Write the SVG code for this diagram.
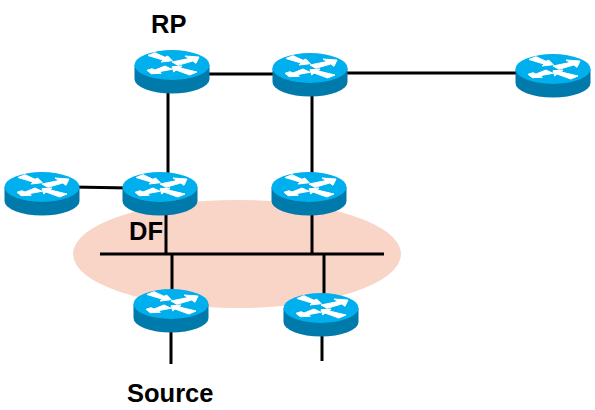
<svg xmlns="http://www.w3.org/2000/svg" width="595" height="410" viewBox="0 0 595 410">
<style>
.l{stroke:#000;stroke-width:3;fill:none}
.t{font-family:"Liberation Sans",Arial,sans-serif;font-weight:700;font-size:25.500px;fill:#000}
.b{fill:#0079ab}
.p{fill:#00afee}
.a{fill:#fff;stroke:#fff;stroke-width:1;stroke-linejoin:round}
</style>
<defs>
<g id="router">
<path class="b" d="M-37.500 0V14A37.500 14.500 0 0 0 37.500 14V0Z"/>
<ellipse class="p" cx="0" cy="0" rx="37.500" ry="15"/>
<path class="a" d="M-24-9.500L-17-12.300L-7-7.700L-4.300-9L0.300-4.300L-11-3L-9-5Z"/>
<path class="a" d="M27-8L13-9L17-6.500L0-3L6 0.300L20.700-4L24-1.700Z"/>
<path class="a" d="M-7 1L0 4.300L-13 6.700L-10.700 8.300L-20.700 8.700L-25 5.300L-20 3.700L-17 5Z"/>
<path class="a" d="M0 1.700L10 1L8.300 3L25 7L17.700 10L4 5L1.700 7Z"/>
</g>
</defs>
<ellipse cx="237" cy="254" rx="164" ry="54" fill="#f8d5c7"/>
<g id="connectors">
<path class="l" d="M168 75V183"/>
<path class="l" d="M205 74H280"/>
<path class="l" d="M340 73H520"/>
<path class="l" d="M312 90V180"/>
<path class="l" d="M72 187L130 188"/>
<path class="l" d="M166 205V254"/>
<path class="l" d="M312 200V254"/>
<path class="l" d="M100 254H384"/>
<path class="l" d="M172 254V295"/>
<path class="l" d="M324 254V300"/>
<path class="l" d="M171 325V364"/>
<path class="l" d="M322 330V361"/>
</g>
<g id="r1"><use href="#router" x="172" y="65"/></g>
<g id="r2"><use href="#router" x="310" y="68"/></g>
<g id="r3"><use href="#router" x="553" y="69"/></g>
<g id="r4"><use href="#router" x="42" y="187"/></g>
<g id="r5"><use href="#router" x="160" y="187"/></g>
<g id="r6"><use href="#router" x="309" y="187"/></g>
<g id="r7"><use href="#router" x="171" y="304"/></g>
<g id="r8"><use href="#router" x="321" y="308"/></g>
<text class="t" x="151" y="33">RP</text>
<text class="t" x="129" y="240">DF</text>
<text class="t" x="127" y="402">Source</text>
</svg>
